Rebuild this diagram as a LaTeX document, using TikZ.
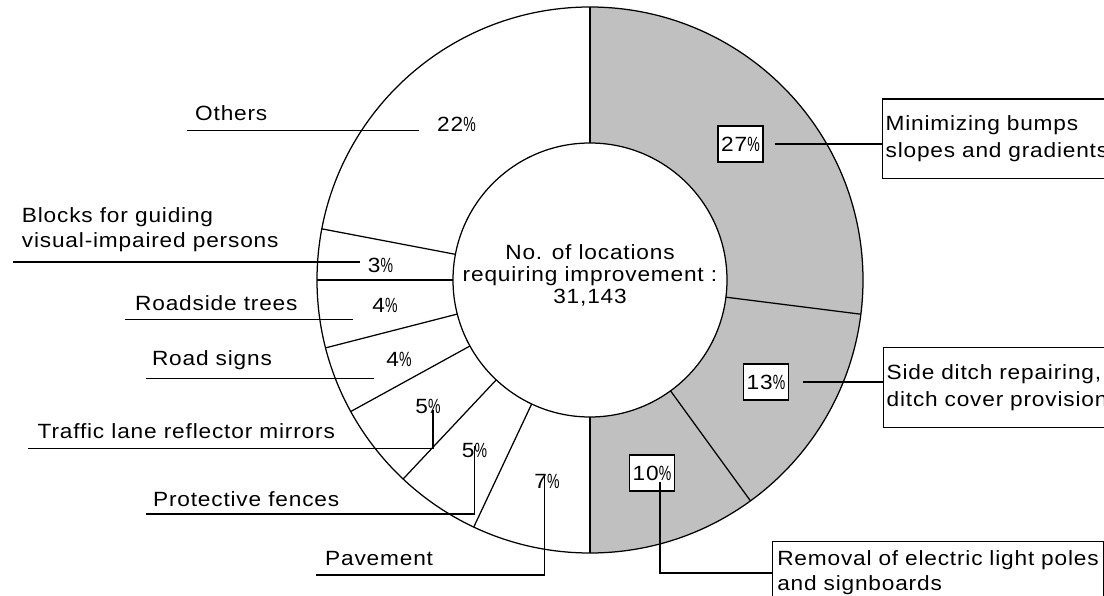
\documentclass[tikz,border=0pt]{standalone}
\usepackage{tikz}
\usepackage{graphicx}
\usepackage{fontspec}
\setmainfont{Liberation Sans}[FakeStretch=1.1,LetterSpace=4]
\definecolor{ringgray}{RGB}{192,192,192}
\newcommand\pc{\scalebox{0.62}[1]{\%}}
\newcommand\lblfont{\fontsize{20.6}{25}\selectfont}

\begin{document}
\begin{tikzpicture}[x=1pt,y=1pt,yscale=-1,
  ring/.style={line width=1.25pt},
  lead/.style={line width=1.25pt},
  lbl/.style={font=\lblfont, inner sep=0pt, anchor=base west},
  pcl/.style={font=\lblfont, inner sep=0pt},
  pbox/.style={draw, fill=white, line width=1.2pt, font=\lblfont,
    minimum width=45pt, minimum height=36pt, inner sep=0pt},
  note/.style={draw, fill=white, line width=1.2pt, align=left,
    anchor=north west, inner xsep=3pt}]

\fill[white] (0,0) rectangle (1104,596);
\useasboundingbox (0,0) rectangle (1104,596);
\clip (0,0) rectangle (1104,596);

% ring: shaded right half, outlines and slice boundaries
\begin{scope}[shift={(590,280)}]
  \fill[ringgray] (-90:137) -- (-90:273)
    arc[start angle=-90, end angle=90, radius=273] -- (90:137)
    arc[start angle=90, end angle=-90, radius=137] -- cycle;
  \draw[ring] (0,0) circle[radius=273];
  \draw[ring] (0,0) circle[radius=137];
  \foreach \a in {-90,7.2,54,90,115.2,133.2,151.2,165.6,180,190.8}
    \draw[ring] (\a:137) -- (\a:273);
\end{scope}

% centre caption
\node[font=\fontsize{20.6}{22}\selectfont, align=center, anchor=north, inner sep=0pt]
  (ctr) at (590,244.3) {No. of locations\\requiring improvement :\\31,143};

% right-hand items
\node[pbox] (b27) at (740.5,144) {27\pc};
\node[note, text width=250pt, inner ysep=16.5pt, font=\fontsize{20.6}{27}\selectfont]
  (n27) at (882,98.5) {Minimizing bumps\\slopes and gradients};
\draw[lead] ([xshift=11pt]b27.east) -- (b27.east -| n27.west);

\node[pbox] (b13) at (766,382) {13\pc};
\node[note, text width=250pt, inner ysep=16.7pt, font=\fontsize{20.6}{27}\selectfont]
  (n13) at (883,347) {Side ditch repairing,\\ditch cover provision};
\draw[lead] ([xshift=14pt]b13.east) -- (b13.east -| n13.west);

\node[pbox] (b10) at (652,473) {10\pc};
\node[note, text width=321.6pt, inner xsep=4.7pt, inner ysep=9pt, font=\lblfont]
  (n10) at (772,541) {Removal of electric light poles\\and signboards};
\coordinate (k10) at (660,573);
\draw[lead] ([xshift=8pt,yshift=-10pt]b10.south) |- (k10 -| n10.west);

% left-hand items
\node[lbl] (tOth) at (195,120.7) {Others};
\node[pcl] (p22) at (456.5,124.5) {22\pc};
\coordinate (uOthL) at (187.3,130.7);
\coordinate (uOthR) at (418.5,130.7);
\draw[lead] (uOthL) -- (uOthR);

\node[lbl, anchor=north west, align=left] (tBlk) at (21.7,207)
  {Blocks for guiding\\visual-impaired persons};
\node[pcl] (p3) at (380.5,265) {3\pc};
\coordinate (uBlkL) at (13,262);
\coordinate (uBlkR) at (360,262);
\draw[lead] (uBlkL) -- (uBlkR);

\node[lbl] (tRst) at (135,311) {Roadside trees};
\node[pcl] (p4a) at (385,305.5) {4\pc};
\coordinate (uRstL) at (125,319.5);
\coordinate (uRstR) at (353,319.5);
\draw[lead] (uRstL) -- (uRstR);

\node[lbl] (tRds) at (151.8,366) {Road signs};
\node[pcl] (p4b) at (399,359.5) {4\pc};
\coordinate (uRdsL) at (145.7,378.3);
\coordinate (uRdsR) at (374.3,378.3);
\draw[lead] (uRdsL) -- (uRdsR);

\node[lbl] (tTrf) at (37.5,438.3) {Traffic lane reflector mirrors};
\node[pcl] (p5a) at (428,406.5) {5\pc};
\coordinate (uTrf) at (27.9,448.3);
\draw[lead] ([xshift=5pt,yshift=-4pt]p5a.south) |- (uTrf);

\node[lbl] (tPrt) at (152.9,506) {Protective fences};
\node[pcl] (p5b) at (474.5,450) {5\pc};
\coordinate (uPrt) at (145.7,514);
\draw[lead] ([yshift=-11pt]p5b.south) |- (uPrt);

\node[lbl] (tPav) at (325,565) {Pavement};
\node[pcl] (p7) at (547,481) {7\pc};
\coordinate (uPav) at (316,575);
\draw[lead] ([xshift=-2.4pt,yshift=-12.4pt]p7.south) |- (uPav);

\end{tikzpicture}
\end{document}
